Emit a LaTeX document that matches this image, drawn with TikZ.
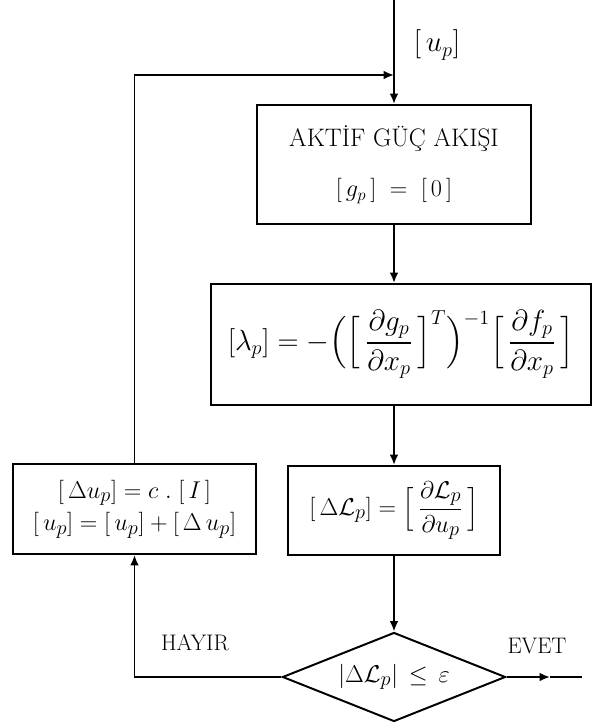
\documentclass[tikz,border=0pt]{standalone}
\usepackage{fontspec}
\usepackage{amsmath}
\usetikzlibrary{positioning,arrows.meta,shapes.geometric}
\tikzset{
  flow-box/.style={draw=black,line width=1.4pt,inner sep=2pt,align=center,
    font=\fontsize{18}{22}\selectfont},
  flow-test/.style={draw=black,line width=1.4pt,diamond,aspect=2.5,inner sep=1pt,
    font=\fontsize{19}{22}\selectfont},
  flow-label/.style={font=\fontsize{16}{19}\selectfont\addfontfeatures{LetterSpace=15}},
  arrow/.style={-{Latex[length=2.6mm,width=2.2mm]},line width=1.4pt,draw=black},
  flow-line/.style={line width=1.4pt,draw=black},
}

\begin{document}
\begin{tikzpicture}[x=0.025cm,y=-0.025cm]
  \useasboundingbox (0,0) rectangle (592,725);
  % giris ve geri besleme
  \coordinate (top) at (394,0);
  \coordinate (join) at (394,75);
  \node[flow-box,minimum width=6.85cm,minimum height=2.975cm] (flow) at (394,164.5)
    {\addfontfeatures{LetterSpace=18}AKT\.{I}F GÜÇ AKIŞI\\[14pt] $[\,g_p\,] \;=\; [\,0\,]$};
  \node[flow-box,font=\fontsize{20}{24}\selectfont,minimum width=9.5cm,minimum height=3.025cm] (lambda) at (401,344.5)
    {$[\lambda_p] = -\Bigl(\Bigl[\,\dfrac{\partial g_p}{\partial x_p}\,\Bigr]^{T}\Bigr)^{-1}
      \Bigl[\,\dfrac{\partial f_p}{\partial x_p}\,\Bigr]$};
  \node[flow-box,font=\fontsize{19}{22}\selectfont,minimum width=5.3cm,minimum height=2.225cm] (grad) at (394,510.5)
    {$[\,\Delta\mathcal{L}_p] = \Bigl[\,\dfrac{\partial\mathcal{L}_p}{\partial u_p}\,\Bigr]$};
  \node[flow-box,font=\fontsize{19}{22}\selectfont,minimum width=6.075cm,minimum height=2.25cm] (update) at (134.5,509)
    {$[\,\Delta u_p] = c\;.\;[\,I\,]$\\[1pt] $[\,u_p] = [\,u_p] + [\,\Delta\, u_p]$};
  \node[flow-test,minimum width=5.575cm,minimum height=2.225cm] (test) at (394,677)
    {$|\Delta\mathcal{L}_p|\,\le\,\varepsilon$};
  \coordinate (exit) at (550,677);
  \coordinate (end) at (582,677);
  \node[flow-label,font=\fontsize{20}{22}\selectfont] (up) at (437,45) {$[\,u_p]$};
  \node[flow-label] (no) at (195,643) {HAYIR};
  \node[flow-label] (yes) at (537,646) {EVET};
  \draw[arrow] (top) -- (flow.north);
  \draw[arrow] (flow.south) -- (flow.south |- lambda.north);
  \draw[arrow] (flow.south |- lambda.south) -- (grad.north);
  \draw[arrow] (grad.south) -- (test.north);
  \draw[arrow] (test.west) -| (update.south);
  \draw[arrow] (update.north) |- (join);
  \draw[arrow] (test.east) -- (exit);
  \draw[flow-line] (exit) -- (end);
\end{tikzpicture}
\end{document}
